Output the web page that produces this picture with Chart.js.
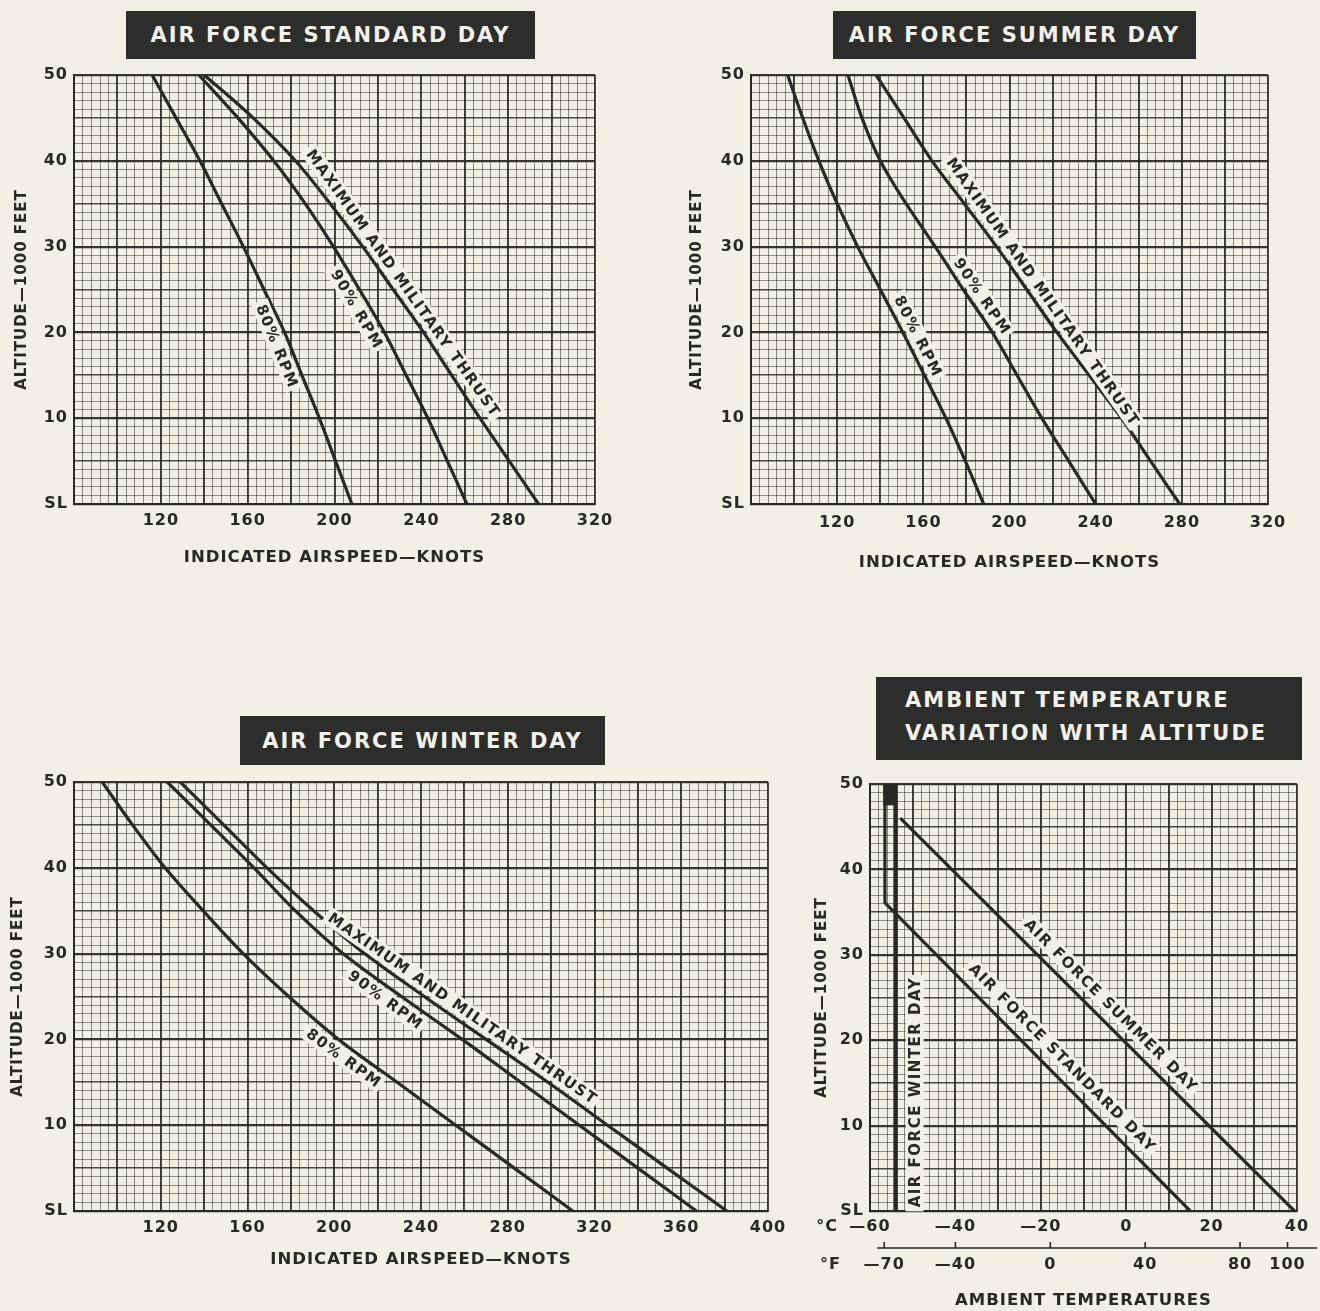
<!DOCTYPE html>
<html>
<head>
<meta charset="utf-8">
<script src="https://cdn.jsdelivr.net/npm/chart.js@4.4.1/dist/chart.umd.min.js"></script>
<style>
  body { margin: 0; background: #f2efe5; }
  #page { position: relative; width: 1320px; height: 1311px; overflow: hidden; font-family: 'DejaVu Sans', sans-serif; }
  canvas { position: absolute; }
  .title { position: absolute; background: #2c2e2b; color: #f3f1ea; font-weight: bold; font-size: 21px; letter-spacing: 2px;
           display: flex; align-items: center; justify-content: center; box-sizing: border-box; }
  .title.two { display: block; padding: 7px 0 0 29px; line-height: 33px; }
</style>
</head>
<body>
<div id="page">
  <div class="title" style="left:126px;top:11px;width:409px;height:48px">AIR FORCE STANDARD DAY</div>
  <div class="title" style="left:833px;top:11px;width:363px;height:48px">AIR FORCE SUMMER DAY</div>
  <div class="title" style="left:240px;top:716px;width:365px;height:49px">AIR FORCE WINTER DAY</div>
  <div class="title two" style="left:876px;top:677px;width:426px;height:83px">AMBIENT TEMPERATURE<br>VARIATION WITH ALTITUDE</div>

  <canvas id="stdChart" width="640" height="530" style="left:0;top:60px"></canvas>
  <canvas id="sumChart" width="620" height="530" style="left:680px;top:60px"></canvas>
  <canvas id="winChart" width="800" height="544" style="left:0;top:767px"></canvas>
  <canvas id="tempChart" width="520" height="541" style="left:800px;top:770px"></canvas>
</div>

<script>
const INK = '#262924';
const PAPER = '#f2efe5';

Chart.defaults.font.family = "'DejaVu Sans', sans-serif";

// altitude in 1000 ft, indicated airspeed in knots
const altitudes = [0, 5, 10, 15, 20, 25, 30, 35, 40, 45, 50];

const std80 = [208, 200.5, 193, 185, 177, 167.5, 158, 148, 138, 127, 116];
const std90 = [261, 252, 243, 233, 223, 211.5, 199.5, 186.5, 172, 155.5, 137.5];
const stdMax = [294, 280.5, 267, 254, 241, 227, 213, 198, 182, 162.5, 140];

const sum80 = [188, 179.5, 170.5, 160.5, 150.5, 140, 129.5, 120, 111.5, 104, 97];
const sum90 = [240, 227.5, 215, 203.5, 192, 178.5, 165.5, 152, 140, 131.5, 125];
const sumMax = [279, 265.5, 252, 237, 222, 208, 194, 179, 164, 151, 138];

const win80 = [310, 283, 256, 229, 202, 179, 158, 139.5, 122, 107, 93];
const win90 = [367, 340, 313, 286, 259, 231, 204, 182, 163, 143, 123];
const winMax = [381, 353.5, 326, 298.5, 270, 241.5, 214, 190.5, 169, 149, 129];

// ambient temperature in deg C
const altStdDay = [0, 36.09, 50];
const tempStdDay = [15, -56.5, -56.5];
const altSumDay = [0, 46];
const tempSumDay = [39.4, -52.9];
const altWinDay = [0, 50];
const tempWinDay = [-54, -54];
const altBlot = [47.5, 50];
const tempBlot = [-55.5, -55.5];

const altLabels = [10, 20, 30, 40, 50];
const knotLabels = [120, 160, 200, 240, 280, 320];
const knotLabelsWinter = [120, 160, 200, 240, 280, 320, 360, 400];
const celsiusLabels = [-60, -40, -20, 0, 20, 40];
const fahrenheitLabels = [-70, -40, 0, 40, 80, 100];

function range(a, b, step) {
  const out = [];
  for (let v = a; v <= b + 1e-9; v += step) out.push(Math.round(v * 100) / 100);
  return out;
}
function signed(v) { return v < 0 ? '\u2014' + Math.abs(v) : String(v); }

const tickFont = { size: 16, weight: 'bold', lineHeight: 1 };
const titleFont = { size: 16.5, weight: 'bold', lineHeight: 1.2 };

// letter spacing for all chart text
const spacing = {
  id: 'spacing',
  beforeLayout(chart) { chart.ctx.letterSpacing = '1px'; },
  beforeDraw(chart) { chart.ctx.letterSpacing = '1px'; }
};

// text set along a curve, on a paper coloured patch
const curveLabels = {
  id: 'curveLabels',
  afterDatasetsDraw(chart, args, opts) {
    const ctx = chart.ctx;
    const xs = chart.scales.x, ys = chart.scales.y;
    ctx.save();
    ctx.font = 'bold 15px "DejaVu Sans", sans-serif';
    ctx.letterSpacing = '1.5px';
    ctx.textAlign = 'center';
    ctx.textBaseline = 'middle';
    for (const item of opts.items || []) {
      const pts = chart.data.datasets[item.ds].data;
      let i = 0;
      while (i < pts.length - 2 && (item.alt - pts[i].y) * (item.alt - pts[i + 1].y) > 0) i++;
      const a = pts[i], b = pts[i + 1];
      const t = (item.alt - a.y) / (b.y - a.y);
      const px = xs.getPixelForValue(a.x + t * (b.x - a.x));
      const py = ys.getPixelForValue(item.alt);
      let dx = xs.getPixelForValue(b.x) - xs.getPixelForValue(a.x);
      let dy = ys.getPixelForValue(b.y) - ys.getPixelForValue(a.y);
      if (dx < 0) { dx = -dx; dy = -dy; }
      const ang = Math.atan2(dy, dx);
      const w = ctx.measureText(item.text).width + 6;
      const h = 18;
      const off = (item.off || 12) * item.side;
      ctx.save();
      ctx.translate(px + Math.sin(ang) * off, py - Math.cos(ang) * off);
      ctx.rotate(ang);
      ctx.fillStyle = PAPER;
      ctx.fillRect(-w / 2, -h / 2, w, h);
      ctx.fillStyle = INK;
      ctx.fillText(item.text, 1, 1);
      ctx.restore();
    }
    ctx.restore();
  }
};

// second temperature scale in deg F
const tempAxes = {
  id: 'tempAxes',
  afterDraw(chart) {
    const ctx = chart.ctx;
    const xc = chart.scales.x, xf = chart.scales.xf;
    const yLine = xf.top - 1;
    ctx.save();
    ctx.strokeStyle = INK;
    ctx.lineWidth = 1.6;
    ctx.beginPath();
    ctx.moveTo(xf.left + 7, yLine);
    ctx.lineTo(chart.width - 3, yLine);
    for (const v of fahrenheitLabels) {
      const p = xf.getPixelForValue(v);
      ctx.moveTo(p, yLine);
      ctx.lineTo(p, yLine - 6);
    }
    ctx.stroke();
    ctx.fillStyle = INK;
    ctx.font = 'bold 16px "DejaVu Sans", sans-serif';
    ctx.letterSpacing = '1px';
    ctx.textAlign = 'right';
    ctx.textBaseline = 'middle';
    ctx.fillText('\u00b0C', xc.left - 32, xc.top + 16);
    ctx.fillText('\u00b0F', xf.left - 29, xf.top + 16);
    ctx.restore();
  }
};

function altGridWidth(c) { const v = c.tick.value; return v % 10 === 0 ? 2.2 : v % 5 === 0 ? 1.6 : 0.9; }
function altGridColor(c) { const v = c.tick.value; return v % 10 === 0 ? 'rgba(35,38,33,0.92)' : v % 5 === 0 ? 'rgba(35,38,33,0.82)' : 'rgba(35,38,33,0.55)'; }

function yScale(width) {
  return {
    type: 'linear', min: 0, max: 50,
    afterFit: s => { s.width = width; },
    afterBuildTicks: s => { s.ticks = range(0, 50, 1).map(v => ({ value: v })); },
    ticks: {
      autoSkip: false, padding: 6, color: INK, font: tickFont,
      callback: v => v === 0 ? 'SL' : (altLabels.includes(v) ? String(v) : '')
    },
    grid: { color: altGridColor, lineWidth: altGridWidth, drawTicks: false },
    border: { color: INK, width: 2 },
    title: { display: true, text: 'ALTITUDE\u20141000 FEET', color: INK, padding: 0,
             font: { size: 15, weight: 'bold', lineHeight: 1.2 } }
  };
}

function knotChart(id, series, xMax, labels, lay, items) {
  const datasets = series.map(vals => ({
    data: altitudes.map((a, i) => ({ x: vals[i], y: a })).sort((p, q) => p.x - q.x),
    borderColor: INK, borderWidth: 3.2, pointRadius: 0, fill: false, tension: 0.35
  }));
  return new Chart(document.getElementById(id), {
    type: 'line',
    data: { datasets },
    options: {
      responsive: false, animation: false, events: [],
      layout: { padding: lay.padding },
      scales: {
        x: {
          type: 'linear', min: 80, max: xMax,
          afterFit: s => { s.height = lay.xh; },
          afterBuildTicks: s => { s.ticks = range(80, xMax, 4).map(v => ({ value: v })); },
          ticks: {
            autoSkip: false, maxRotation: 0, padding: lay.tickPad, color: INK, font: tickFont,
            callback: v => labels.includes(v) ? String(v) : ''
          },
          grid: {
            drawTicks: false,
            lineWidth: c => c.tick.value % 20 === 0 ? 1.9 : 0.9,
            color: c => c.tick.value % 20 === 0 ? 'rgba(35,38,33,0.9)' : 'rgba(35,38,33,0.58)'
          },
          border: { color: INK, width: 2 },
          title: { display: true, text: 'INDICATED AIRSPEED\u2014KNOTS', color: INK, padding: 0, font: titleFont }
        },
        y: yScale(lay.yw)
      },
      plugins: { legend: { display: false }, tooltip: { enabled: false }, curveLabels: { items } }
    },
    plugins: [spacing, curveLabels]
  });
}

knotChart('stdChart', [std80, std90, stdMax], 320, knotLabels,
  { padding: { left: 13, top: 15, right: 45, bottom: 22 }, xh: 64, yw: 61, tickPad: 9 },
  [
    { ds: 0, alt: 19, text: '80% RPM', side: -1 },
    { ds: 1, alt: 23.5, text: '90% RPM', side: -1 },
    { ds: 2, alt: 25, text: 'MAXIMUM AND MILITARY THRUST', side: 1 }
  ]);

knotChart('sumChart', [sum80, sum90, sumMax], 320, knotLabels,
  { padding: { left: 8, top: 15, right: 32, bottom: 17 }, xh: 69, yw: 63, tickPad: 11 },
  [
    { ds: 0, alt: 19, text: '80% RPM', side: 1 },
    { ds: 1, alt: 23.5, text: '90% RPM', side: 1 },
    { ds: 2, alt: 24, text: 'MAXIMUM AND MILITARY THRUST', side: 1 }
  ]);

knotChart('winChart', [win80, win90, winMax], 400, knotLabelsWinter,
  { padding: { left: 9, top: 15, right: 32, bottom: 41 }, xh: 59, yw: 65, tickPad: 9 },
  [
    { ds: 0, alt: 19, text: '80% RPM', side: -1 },
    { ds: 1, alt: 25.8, text: '90% RPM', side: -1 },
    { ds: 2, alt: 22.5, text: 'MAXIMUM AND MILITARY THRUST', side: 1 }
  ]);

function tempSet(alts, temps, width) {
  return {
    data: alts.map((a, i) => ({ x: temps[i], y: a })),
    borderColor: INK, borderWidth: width, pointRadius: 0, fill: false, tension: 0
  };
}

new Chart(document.getElementById('tempChart'), {
  type: 'line',
  data: {
    datasets: [
      tempSet(altSumDay, tempSumDay, 3.2),
      tempSet(altStdDay, tempStdDay, 3.2),
      tempSet(altWinDay, tempWinDay, 4.5),
      tempSet(altBlot, tempBlot, 12)
    ]
  },
  options: {
    responsive: false, animation: false, events: [],
    layout: { padding: { left: 13, top: 9, right: 23, bottom: 0 } },
    scales: {
      x: {
        type: 'linear', min: -60, max: 40, weight: 0,
        afterFit: s => { s.height = 38; },
        afterBuildTicks: s => { s.ticks = range(-60, 40, 2).map(v => ({ value: v })); },
        ticks: {
          autoSkip: false, maxRotation: 0, padding: 8, color: INK, font: tickFont,
          callback: v => celsiusLabels.includes(v) ? signed(v) : ''
        },
        grid: {
          drawTicks: false,
          lineWidth: c => c.tick.value % 10 === 0 ? 1.9 : 0.9,
          color: c => c.tick.value % 10 === 0 ? 'rgba(35,38,33,0.9)' : 'rgba(35,38,33,0.58)'
        },
        border: { color: INK, width: 2 }
      },
      xf: {
        type: 'linear', position: 'bottom', min: -76, max: 104, weight: 1,
        afterFit: s => { s.height = 62; },
        afterBuildTicks: s => { s.ticks = fahrenheitLabels.map(v => ({ value: v })); },
        ticks: { autoSkip: false, maxRotation: 0, padding: 8, color: INK, font: tickFont, callback: v => signed(v) },
        grid: { display: false, drawTicks: false },
        border: { display: false },
        title: { display: true, text: 'AMBIENT TEMPERATURES', color: INK, padding: 0, font: titleFont }
      },
      y: yScale(57)
    },
    plugins: {
      legend: { display: false }, tooltip: { enabled: false },
      curveLabels: {
        items: [
          { ds: 0, alt: 22.8, text: 'AIR FORCE SUMMER DAY', side: 1, off: 16 },
          { ds: 1, alt: 16.6, text: 'AIR FORCE STANDARD DAY', side: 1, off: 17 },
          { ds: 2, alt: 13.8, text: 'AIR FORCE WINTER DAY', side: -1, off: 19 }
        ]
      }
    }
  },
  plugins: [spacing, curveLabels, tempAxes]
});
</script>
</body>
</html>
